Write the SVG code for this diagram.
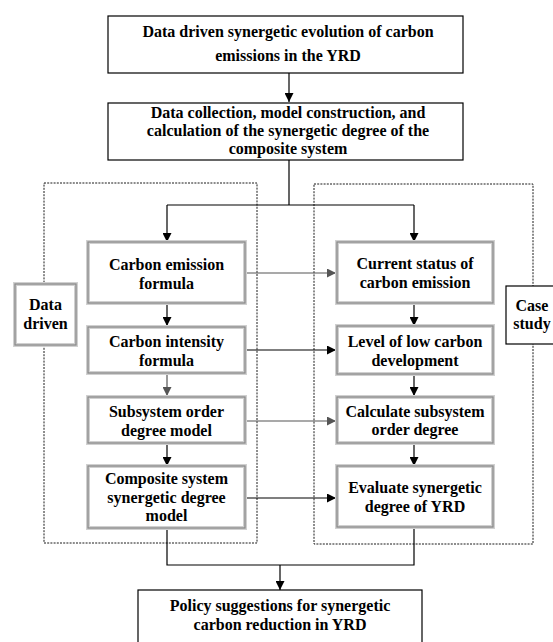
<svg xmlns="http://www.w3.org/2000/svg" width="553" height="642" viewBox="0 0 553 642">
<defs>
<marker id="ab" viewBox="0 0 10 10" refX="10" refY="5" markerWidth="9" markerHeight="9" markerUnits="userSpaceOnUse" orient="auto"><path d="M0,0 L10,5 L0,10 Z" fill="#000"/></marker>
<marker id="ag" viewBox="0 0 10 10" refX="10" refY="5" markerWidth="9" markerHeight="9" markerUnits="userSpaceOnUse" orient="auto"><path d="M0,0 L10,5 L0,10 Z" fill="#555"/></marker>
</defs>
<style>
text{font-family:"Liberation Serif","Times New Roman",serif;font-weight:bold;font-size:16px;text-anchor:middle;fill:#000}
.plain{fill:#fff;stroke:#000;stroke-width:1.2}
.sh{fill:#fff;stroke:#d0d0d0;stroke-width:4}
.shi{fill:none;stroke:#8a8a8a;stroke-width:1.3}
.dash{fill:none;stroke:#000;stroke-width:0.9;stroke-dasharray:2,1.2}
.c{fill:none;stroke:#000;stroke-width:1.2}
.cg{fill:none;stroke:#555;stroke-width:1.2}
</style>
<g id="groups">
<rect class="dash" x="44" y="183" width="213" height="360"/>
<rect class="dash" x="314" y="184" width="219" height="360"/>
</g>
<g id="connectors">
<path class="c" d="M289,73 V102" marker-end="url(#ab)"/>
<path class="c" d="M289,160 V205 M167,205 H414"/>
<path class="c" d="M167,205 V242" marker-end="url(#ab)"/>
<path class="c" d="M414,205 V242" marker-end="url(#ab)"/>
<path class="c" d="M167,303 V326" marker-end="url(#ab)"/>
<path class="cg" d="M167,373 V396" marker-end="url(#ag)"/>
<path class="c" d="M167,443 V466" marker-end="url(#ab)"/>
<path class="c" d="M414,303 V326" marker-end="url(#ab)"/>
<path class="c" d="M414,374 V396" marker-end="url(#ab)"/>
<path class="c" d="M414,443 V466" marker-end="url(#ab)"/>
<path class="cg" d="M245,273 H336" marker-end="url(#ag)"/>
<path class="c" d="M245,350 H336" marker-end="url(#ab)"/>
<path class="cg" d="M245,421 H336" marker-end="url(#ag)"/>
<path class="c" d="M245,498 H336" marker-end="url(#ab)"/>
<path class="c" d="M167,528 V565 H414 V527"/>
<path class="c" d="M280,565 V590" marker-end="url(#ab)"/>
</g>
<g id="n-top">
<rect class="plain" x="108" y="16" width="355" height="57"/>
<text x="288" y="37">Data driven synergetic evolution of carbon</text>
<text x="288" y="61">emissions in the YRD</text>
</g>
<g id="n-data">
<rect class="plain" x="108" y="103" width="355" height="57"/>
<text x="288" y="118">Data collection, model construction, and</text>
<text x="288" y="136">calculation of the synergetic degree of the</text>
<text x="288" y="154">composite system</text>
</g>
<g id="n-datadriven">
<rect class="sh" x="15" y="284" width="61" height="61"/>
<rect class="shi" x="15" y="284" width="61" height="61"/>
<text x="45.5" y="310">Data</text>
<text x="45.5" y="329">driven</text>
</g>
<g id="n-case">
<rect class="plain" x="506" y="286" width="60" height="58"/>
<text x="532" y="311">Case</text>
<text x="532" y="329">study</text>
</g>
<g id="n-l1">
<rect class="sh" x="88" y="242" width="157" height="61"/>
<rect class="shi" x="88" y="242" width="157" height="61"/>
<text x="166.5" y="270">Carbon emission</text>
<text x="166.5" y="289">formula</text>
</g>
<g id="n-l2">
<rect class="sh" x="88" y="327" width="157" height="46"/>
<rect class="shi" x="88" y="327" width="157" height="46"/>
<text x="166.5" y="347">Carbon intensity</text>
<text x="166.5" y="366">formula</text>
</g>
<g id="n-l3">
<rect class="sh" x="88" y="397" width="157" height="46"/>
<rect class="shi" x="88" y="397" width="157" height="46"/>
<text x="166.5" y="417">Subsystem order</text>
<text x="166.5" y="436">degree model</text>
</g>
<g id="n-l4">
<rect class="sh" x="88" y="466" width="157" height="62"/>
<rect class="shi" x="88" y="466" width="157" height="62"/>
<text x="166.5" y="484">Composite system</text>
<text x="166.5" y="503">synergetic degree</text>
<text x="166.5" y="521">model</text>
</g>
<g id="n-r1">
<rect class="sh" x="337" y="242" width="156" height="61"/>
<rect class="shi" x="337" y="242" width="156" height="61"/>
<text x="415" y="269">Current status of</text>
<text x="415" y="288">carbon emission</text>
</g>
<g id="n-r2">
<rect class="sh" x="337" y="326" width="156" height="48"/>
<rect class="shi" x="337" y="326" width="156" height="48"/>
<text x="415" y="347">Level  of low carbon</text>
<text x="415" y="366">development</text>
</g>
<g id="n-r3">
<rect class="sh" x="337" y="397" width="156" height="46"/>
<rect class="shi" x="337" y="397" width="156" height="46"/>
<text x="415" y="417">Calculate subsystem</text>
<text x="415" y="435">order degree</text>
</g>
<g id="n-r4">
<rect class="sh" x="337" y="466" width="156" height="61"/>
<rect class="shi" x="337" y="466" width="156" height="61"/>
<text x="415" y="493">Evaluate synergetic</text>
<text x="415" y="512">degree of YRD</text>
</g>
<g id="n-policy">
<rect class="plain" x="138" y="590" width="284" height="60"/>
<text x="280" y="611">Policy suggestions for synergetic</text>
<text x="280" y="630">carbon reduction in YRD</text>
</g>
</svg>
